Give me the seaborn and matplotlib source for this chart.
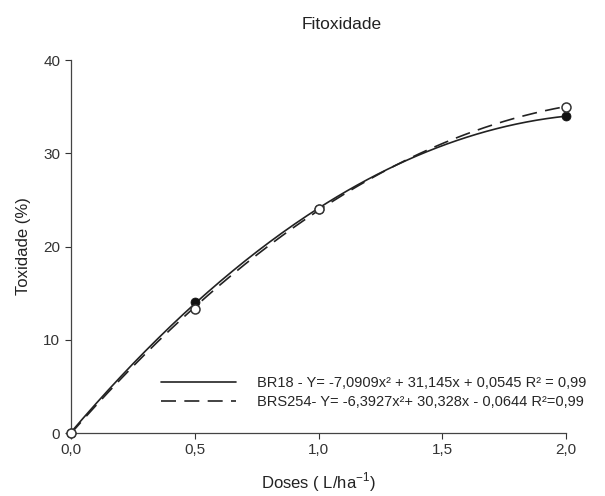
import matplotlib
matplotlib.use("Agg")
import matplotlib.pyplot as plt
import seaborn as sns
import numpy as np
import pandas as pd

# Observed points
doses = [0.0, 0.5, 1.0, 2.0]
br18 = [0.0, 14.0, 24.0, 34.0]
brs254 = [0.0, 13.3, 24.0, 35.0]

# Fitted quadratic coefficients (from the legend equations)
coef_br18 = [-7.0909, 31.145, 0.0545]
coef_brs254 = [-6.3927, 30.328, -0.0644]

label_br18 = "BR18 - Y= -7,0909x² + 31,145x + 0,0545 R² = 0,99"
label_brs254 = "BRS254- Y= -6,3927x²+ 30,328x - 0,0644 R²=0,99"

xticks = [0.0, 0.5, 1.0, 1.5, 2.0]
xtick_labels = ["0,0", "0,5", "1,0", "1,5", "2,0"]
yticks = [0, 10, 20, 30, 40]

sns.set_theme(style="ticks")
plt.rcParams['font.family'] = ['Liberation Sans', 'DejaVu Sans']

fig = plt.figure(figsize=(6.05, 4.96), dpi=100)
ax = fig.add_axes([0.117, 0.127, 0.819, 0.752])

xs = np.linspace(0, 2, 200)
curves = pd.DataFrame({
    "x": xs,
    "br18": np.polyval(coef_br18, xs),
    "brs254": np.polyval(coef_brs254, xs),
})

sns.lineplot(data=curves, x="x", y="br18", ax=ax, color="#222222", lw=1.2,
             label=label_br18)
sns.lineplot(data=curves, x="x", y="brs254", ax=ax, color="#222222", lw=1.2,
             label=label_brs254)
ax.lines[1].set_dashes((9, 5))

pts = pd.DataFrame({"dose": doses, "br18": br18, "brs254": brs254})
sns.scatterplot(data=pts, x="dose", y="br18", ax=ax, color="#111111", s=42,
                edgecolor="#111111", zorder=5, clip_on=False, legend=False)
sns.scatterplot(data=pts, x="dose", y="brs254", ax=ax, facecolor="white", s=42,
                edgecolor="#333333", linewidth=1.1, zorder=6, clip_on=False,
                legend=False)

ax.set_xlim(0, 2)
ax.set_ylim(0, 40)
ax.set_xticks(xticks)
ax.set_xticklabels(xtick_labels)
ax.set_yticks(yticks)
ax.tick_params(labelsize=11, length=4, width=0.8, colors="#333333")
for s in ["top", "right"]:
    ax.spines[s].set_visible(False)
for s in ["left", "bottom"]:
    ax.spines[s].set_color("#444444")
    ax.spines[s].set_linewidth(0.9)

ax.set_xlabel("Doses ( L/ha$^{\\mathregular{-1}}$)", fontsize=12, color="#222222", labelpad=9)
ax.set_ylabel("Toxidade (%)", fontsize=12, color="#222222", labelpad=9)
fig.text(0.565, 0.95, "Fitoxidade", ha="center", va="center", fontsize=12.5, color="#222222")

ax.legend(loc="lower right", bbox_to_anchor=(1.068, 0.03), frameon=False,
          fontsize=10.5, handlelength=5.1, labelspacing=0.3, handletextpad=1.5)

fig.savefig("out.png", dpi=100)
